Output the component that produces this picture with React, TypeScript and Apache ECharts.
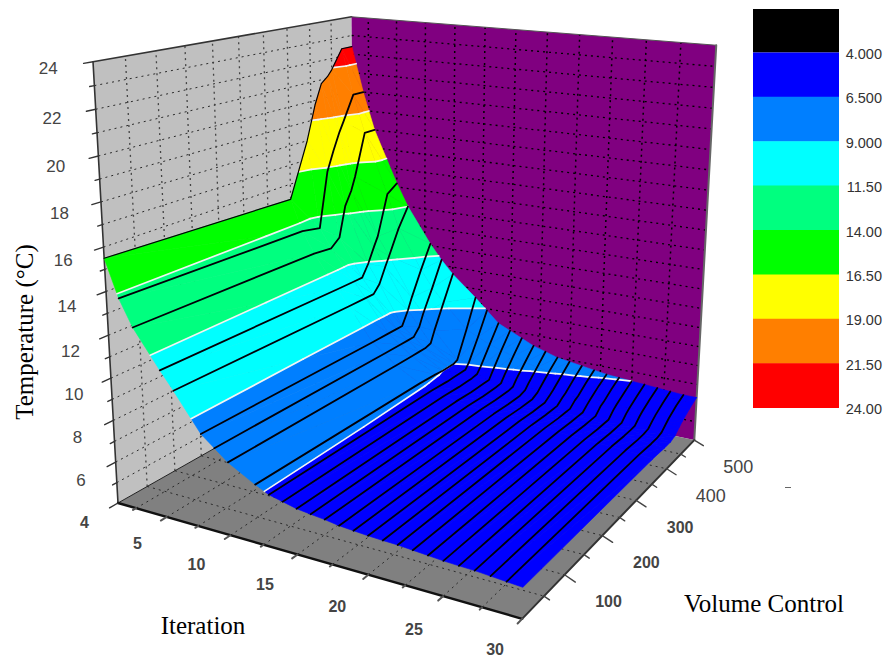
import React, { useEffect, useRef } from "react";
import * as echarts from "echarts";

// ---- data ----
const iterations = [1, 2, 3, 5, 6, 8, 9, 10, 12, 13, 14, 15, 16, 17, 18, 19, 20, 21, 22, 23, 24, 25, 26, 27, 28, 29, 30];
const volumes = [0, 350, 390, 410, 425, 440, 450, 475, 500];
// one row per iteration, one value per volume
const surfaceTemps = [
  [15.5, 15.2, 18.0, 19.8, 20.8, 21.1, 21.4, 22.4, 22.4],
  [13.8, 13.6, 13.4, 16.3, 17.3, 18.2, 18.7, 20.0, 20.0],
  [12.6, 12.5, 12.4, 12.8, 14.4, 15.1, 15.8, 18.0, 18.0],
  [10.9, 10.8, 10.8, 10.8, 11.4, 12.2, 12.7, 14.8, 15.2],
  [10.1, 10.0, 10.0, 10.0, 10.4, 11.2, 11.7, 13.0, 14.0],
  [8.4, 8.3, 8.3, 8.3, 8.3, 9.0, 9.6, 10.9, 12.1],
  [7.9, 7.8, 7.8, 7.8, 7.8, 8.2, 8.8, 10.0, 11.3],
  [7.4, 7.3, 7.3, 7.3, 7.3, 7.4, 8.0, 9.3, 10.6],
  [6.7, 6.6, 6.55, 6.5, 6.5, 6.5, 6.6, 8.0, 9.5],
  [6.4, 6.35, 6.3, 6.3, 6.3, 6.3, 6.6, 7.7, 8.9],
  [6.25, 6.2, 6.15, 6.15, 6.15, 6.2, 6.5, 7.4, 8.3],
  [6.1, 6.05, 6.0, 6.0, 6.0, 6.0, 6.35, 7.2, 8.0],
  [6.02, 5.97, 5.92, 5.92, 5.92, 5.95, 6.27, 7.0, 7.7],
  [5.95, 5.9, 5.85, 5.85, 5.85, 5.9, 6.2, 6.8, 7.4],
  [5.85, 5.8, 5.75, 5.75, 5.75, 5.85, 6.1, 6.65, 7.2],
  [5.8, 5.75, 5.7, 5.7, 5.7, 5.85, 6.05, 6.55, 7.0],
  [5.75, 5.7, 5.65, 5.65, 5.65, 5.85, 6.0, 6.45, 6.9],
  [5.72, 5.67, 5.62, 5.62, 5.62, 5.85, 5.97, 6.4, 6.8],
  [5.7, 5.65, 5.6, 5.6, 5.6, 5.85, 5.95, 6.35, 6.7],
  [5.65, 5.6, 5.55, 5.55, 5.55, 5.8, 5.95, 6.3, 6.6],
  [5.6, 5.55, 5.5, 5.5, 5.5, 5.8, 5.9, 6.25, 6.55],
  [5.55, 5.5, 5.45, 5.45, 5.45, 5.75, 5.9, 6.2, 6.5],
  [5.52, 5.47, 5.42, 5.42, 5.43, 5.72, 5.87, 6.17, 6.45],
  [5.5, 5.45, 5.4, 5.4, 5.42, 5.7, 5.85, 6.15, 6.4],
  [5.45, 5.4, 5.35, 5.35, 5.4, 5.65, 5.8, 6.1, 6.35],
  [5.4, 5.35, 5.3, 5.3, 5.37, 5.62, 5.78, 6.08, 6.3],
  [5.35, 5.3, 5.25, 5.25, 5.35, 5.6, 5.75, 6.05, 6.3],
];
const levels = [4, 6.5, 9, 11.5, 14, 16.5, 19, 21.5, 24];
const levelLabels = ["4.000", "6.500", "9.000", "11.50", "14.00", "16.50", "19.00", "21.50", "24.00"];
const bandColors = ["#0000ff", "#007fff", "#00ffff", "#00ff7f", "#00ff00", "#ffff00", "#ff7f00", "#ff0000"];
const tempTicks = [4, 6, 8, 10, 12, 14, 16, 18, 20, 22, 24];
const iterTicks = [5, 10, 15, 20, 25, 30];
const volTicks = [100, 200, 300, 400, 500];
const iterRange = [1, 30];
const volRange = [0, 500];
const tempRange = [4, 24];

// ---- camera: origin, vanishing points and their weights ----
const O = [118, 503];
const VI = [-2300, -190, -0.1432];
const VV = [1253, -140, 0.264];
const VT = [407, 5605, -0.0796];

function project(iter: number, vol: number, temp: number) {
  const u = (iter - iterRange[0]) / (iterRange[1] - iterRange[0]);
  const v = (vol - volRange[0]) / (volRange[1] - volRange[0]);
  const w = (temp - tempRange[0]) / (tempRange[1] - tempRange[0]);
  const hw = 1 + VI[2] * u + VV[2] * v + VT[2] * w;
  return [
    (O[0] + VI[2] * u * VI[0] + VV[2] * v * VV[0] + VT[2] * w * VT[0]) / hw,
    (O[1] + VI[2] * u * VI[1] + VV[2] * v * VV[1] + VT[2] * w * VT[1]) / hw,
  ];
}

type P3 = [number, number, number];
type Item =
  | { t: "poly"; pts: P3[]; fill: string; seam?: boolean }
  | { t: "line"; pts: P3[]; stroke: string; w: number; dash?: number[] }
  | { t: "text"; at: P3; dx: number; dy: number; text: string; font: string; fill: string };

function clipBelow(poly: P3[], level: number, keepAbove: boolean): P3[] {
  const out: P3[] = [];
  for (let i = 0; i < poly.length; i++) {
    const a = poly[i];
    const b = poly[(i + 1) % poly.length];
    const ina = keepAbove ? a[2] >= level : a[2] <= level;
    const inb = keepAbove ? b[2] >= level : b[2] <= level;
    if (ina) out.push(a);
    if (ina !== inb) {
      const k = (level - a[2]) / (b[2] - a[2]);
      out.push([a[0] + (b[0] - a[0]) * k, a[1] + (b[1] - a[1]) * k, level]);
    }
  }
  return out;
}

function crossing(tri: P3[], level: number): P3[] {
  const pts: P3[] = [];
  for (let i = 0; i < 3; i++) {
    const a = tri[i];
    const b = tri[(i + 1) % 3];
    if (a[2] < level !== b[2] < level) {
      const k = (level - a[2]) / (b[2] - a[2]);
      pts.push([a[0] + (b[0] - a[0]) * k, a[1] + (b[1] - a[1]) * k, level]);
    }
  }
  return pts;
}

function buildItems(): Item[] {
  const items: Item[] = [];
  const [i0, i1] = iterRange;
  const [v0, v1] = volRange;
  const [t0, t1] = tempRange;
  const gridColor = "#2a2a2a";
  const dash = [2, 4];

  // walls and floor
  items.push({ t: "poly", pts: [[i0, v0, t0], [i0, v1, t0], [i0, v1, t1], [i0, v0, t1]], fill: "#c0c0c0" });
  items.push({ t: "poly", pts: [[i0, v1, t0], [i1, v1, t0], [i1, v1, t1], [i0, v1, t1]], fill: "#800080" });
  items.push({ t: "poly", pts: [[i0, v0, t0], [i1, v0, t0], [i1, v1, t0], [i0, v1, t0]], fill: "#808080" });

  for (let temp = t0 + 1; temp < t1; temp += 1) {
    items.push({ t: "line", pts: [[i0, v0, temp], [i0, v1, temp]], stroke: gridColor, w: 1, dash });
    items.push({ t: "line", pts: [[i0, v1, temp], [i1, v1, temp]], stroke: "#000000", w: 1.3, dash });
  }
  for (let vol = v0 + 50; vol < v1; vol += 50) {
    items.push({ t: "line", pts: [[i0, vol, t0], [i0, vol, t1]], stroke: "#444444", w: 1.3, dash });
    items.push({ t: "line", pts: [[i0, vol, t0], [i1, vol, t0]], stroke: gridColor, w: 1, dash });
  }
  for (let it = 2.5; it < i1; it += 2.5) {
    items.push({ t: "line", pts: [[it, v1, t0], [it, v1, t1]], stroke: "#000000", w: 1.5, dash });
    items.push({ t: "line", pts: [[it, v0, t0], [it, v1, t0]], stroke: gridColor, w: 1, dash });
  }

  // frame
  items.push({ t: "line", pts: [[i0, v0, t0], [i0, v0, t1], [i0, v1, t1]], stroke: "#333333", w: 1.6 });
  items.push({ t: "line", pts: [[i0, v1, t1], [i1, v1, t1]], stroke: "#555555", w: 1 });
  items.push({ t: "line", pts: [[i1, v1, t1], [i1, v1, t0]], stroke: "#666666", w: 2 });
  items.push({ t: "line", pts: [[i0, v0, t0], [i0, v1, t0]], stroke: "#222222", w: 1 });
  items.push({ t: "line", pts: [[i0, v0, t0], [i1, v0, t0]], stroke: "#111111", w: 2.4 });
  items.push({ t: "line", pts: [[i1, v0, t0], [i1, v1, t0]], stroke: "#333333", w: 2 });

  // ticks
  for (let temp = t0; temp <= t1; temp += 1) {
    const major = temp % 2 === 0;
    items.push({ t: "line", pts: [[i0, v0, temp], [i0, v0 - (major ? 14 : 7), temp]], stroke: "#333333", w: 1.4 });
  }
  for (let it = 2.5; it <= i1; it += 2.5) {
    const major = it % 5 === 0;
    items.push({ t: "line", pts: [[it, v0, t0], [it, v0 - (major ? 10 : 5), t0]], stroke: "#555555", w: 2 });
  }
  for (let vol = v0 + 50; vol <= v1; vol += 50) {
    const major = vol % 100 === 0;
    items.push({ t: "line", pts: [[i1, vol, t0], [i1 + (major ? 0.7 : 0.35), vol, t0 - (major ? 0.2 : 0.1)]], stroke: "#444444", w: 1.4 });
  }

  // surface bands, back to front
  const cells: P3[][] = [];
  for (let r = volumes.length - 2; r >= 0; r--) {
    for (let c = 0; c < iterations.length - 1; c++) {
      const a: P3 = [iterations[c], volumes[r], surfaceTemps[c][r]];
      const b: P3 = [iterations[c + 1], volumes[r], surfaceTemps[c + 1][r]];
      const d: P3 = [iterations[c], volumes[r + 1], surfaceTemps[c][r + 1]];
      const e: P3 = [iterations[c + 1], volumes[r + 1], surfaceTemps[c + 1][r + 1]];
      cells.push([d, e, a], [e, b, a]);
    }
  }
  for (const tri of cells) {
    for (let k = 0; k < bandColors.length; k++) {
      let poly = clipBelow(tri, levels[k], true);
      if (poly.length) poly = clipBelow(poly, levels[k + 1], false);
      if (poly.length >= 3) items.push({ t: "poly", pts: poly, fill: bandColors[k], seam: true });
    }
  }
  // white contours
  for (const tri of cells) {
    for (let k = 1; k < levels.length - 1; k++) {
      const seg = crossing(tri, levels[k]);
      if (seg.length === 2) items.push({ t: "line", pts: seg, stroke: "#f4f4f4", w: 1.7 });
    }
  }
  // black mesh lines along volume
  iterations.forEach((it, c) => {
    if (c === iterations.length - 1) return;
    items.push({
      t: "line",
      pts: volumes.map((vol, r) => [it, vol, surfaceTemps[c][r]] as P3),
      stroke: "#000008",
      w: c === 0 ? 1.2 : 1.8,
    });
  });

  // tick labels
  const font = '17px "Liberation Sans", Arial, sans-serif';
  const bold = 'bold 16px "Liberation Sans", Arial, sans-serif';
  tempTicks.forEach((temp) => {
    items.push({
      t: "text",
      at: [i0, v0 - 60, temp],
      dx: (14 - temp) * 0.35,
      dy: temp < 12 ? -1.5 : 0,
      text: String(temp),
      font: temp === 4 ? bold : font,
      fill: "#444444",
    });
  });
  iterTicks.forEach((it) => {
    items.push({
      t: "text",
      at: [it, v0 - 60, t0],
      dx: it === 5 ? 7 : 1,
      dy: it === 30 ? 2 : it === 5 ? 5 : 6,
      text: String(it),
      font: bold,
      fill: "#444444",
    });
  });
  volTicks.forEach((vol) => {
    items.push({ t: "text", at: [i1, vol, t0], dx: 44, dy: 27, text: String(vol), font: vol >= 400 ? '18px "Liberation Sans", Arial, sans-serif' : bold, fill: "#444444" });
  });
  return items;
}

const serif = '25px "Liberation Serif", "Times New Roman", serif';

function legendGraphics() {
  const els: any[] = [];
  const left = 753;
  const width = 86;
  const top = 9;
  const step = 44.4;
  els.push({ type: "rect", shape: { x: left, y: top, width, height: step - 1 }, style: { fill: "#000000" } });
  bandColors.forEach((c, i) => {
    els.push({ type: "rect", shape: { x: left, y: top + step * (i + 1) - 1, width, height: step + 0.5 }, style: { fill: c } });
  });
  levelLabels.forEach((t, i) => {
    els.push({
      type: "text",
      x: 882,
      y: 54 + step * i,
      style: { text: t, font: '14.5px "Liberation Sans", Arial, sans-serif', fill: "#333333", textAlign: "right", textVerticalAlign: "middle" },
    });
  });
  els.push({ type: "line", shape: { x1: 785, y1: 487.5, x2: 791, y2: 487.5 }, style: { stroke: "#666666", lineWidth: 1 } });
  els.push({
    type: "text", x: 24, y: 332, rotation: Math.PI / 2,
    style: { text: "Temperature (°C)", font: serif, fill: "#000000", textAlign: "center", textVerticalAlign: "middle" },
  });
  els.push({
    type: "text", x: 203, y: 625,
    style: { text: "Iteration", font: serif, fill: "#000000", textAlign: "center", textVerticalAlign: "middle" },
  });
  els.push({
    type: "text", x: 764, y: 603,
    style: { text: "Volume Control", font: serif, fill: "#000000", textAlign: "center", textVerticalAlign: "middle" },
  });
  return els;
}

export default function App() {
  const ref = useRef<HTMLDivElement>(null);
  useEffect(() => {
    const chart = echarts.init(ref.current!, undefined, { renderer: "svg" });
    const items = buildItems();
    const renderItem = (params: any, api: any) => {
      const it = items[params.dataIndex];
      if (it.t === "text") {
        const p = api.coord(project(it.at[0], it.at[1], it.at[2]));
        return {
          type: "text",
          x: p[0] + it.dx,
          y: p[1] + it.dy,
          style: { text: it.text, font: it.font, fill: it.fill, textAlign: "center", textVerticalAlign: "middle" },
        };
      }
      const points = it.pts.map((q) => api.coord(project(q[0], q[1], q[2])));
      if (it.t === "poly") {
        return {
          type: "polygon",
          shape: { points },
          style: { fill: it.fill, stroke: it.seam ? it.fill : undefined, lineWidth: it.seam ? 0.6 : 0 },
        };
      }
      return {
        type: "polyline",
        shape: { points },
        style: { stroke: it.stroke, lineWidth: it.w, lineDash: it.dash, lineCap: it.dash ? "butt" : "round", lineJoin: "round", fill: null },
      };
    };
    chart.setOption({
      animation: false,
      backgroundColor: "#ffffff",
      grid: { left: 0, right: 0, top: 0, bottom: 0 },
      xAxis: { type: "value", min: 0, max: 886, show: false },
      yAxis: { type: "value", min: 0, max: 660, inverse: true, show: false },
      graphic: legendGraphics(),
      series: [
        {
          type: "custom",
          coordinateSystem: "cartesian2d",
          clip: false,
          silent: true,
          progressive: 0,
          renderItem,
          data: items.map((_, i) => [i % 886, 0]),
        },
      ],
    });
    return () => chart.dispose();
  }, []);
  return <div ref={ref} style={{ position: "fixed", left: 0, top: 0, width: 886, height: 660 }} />;
}
